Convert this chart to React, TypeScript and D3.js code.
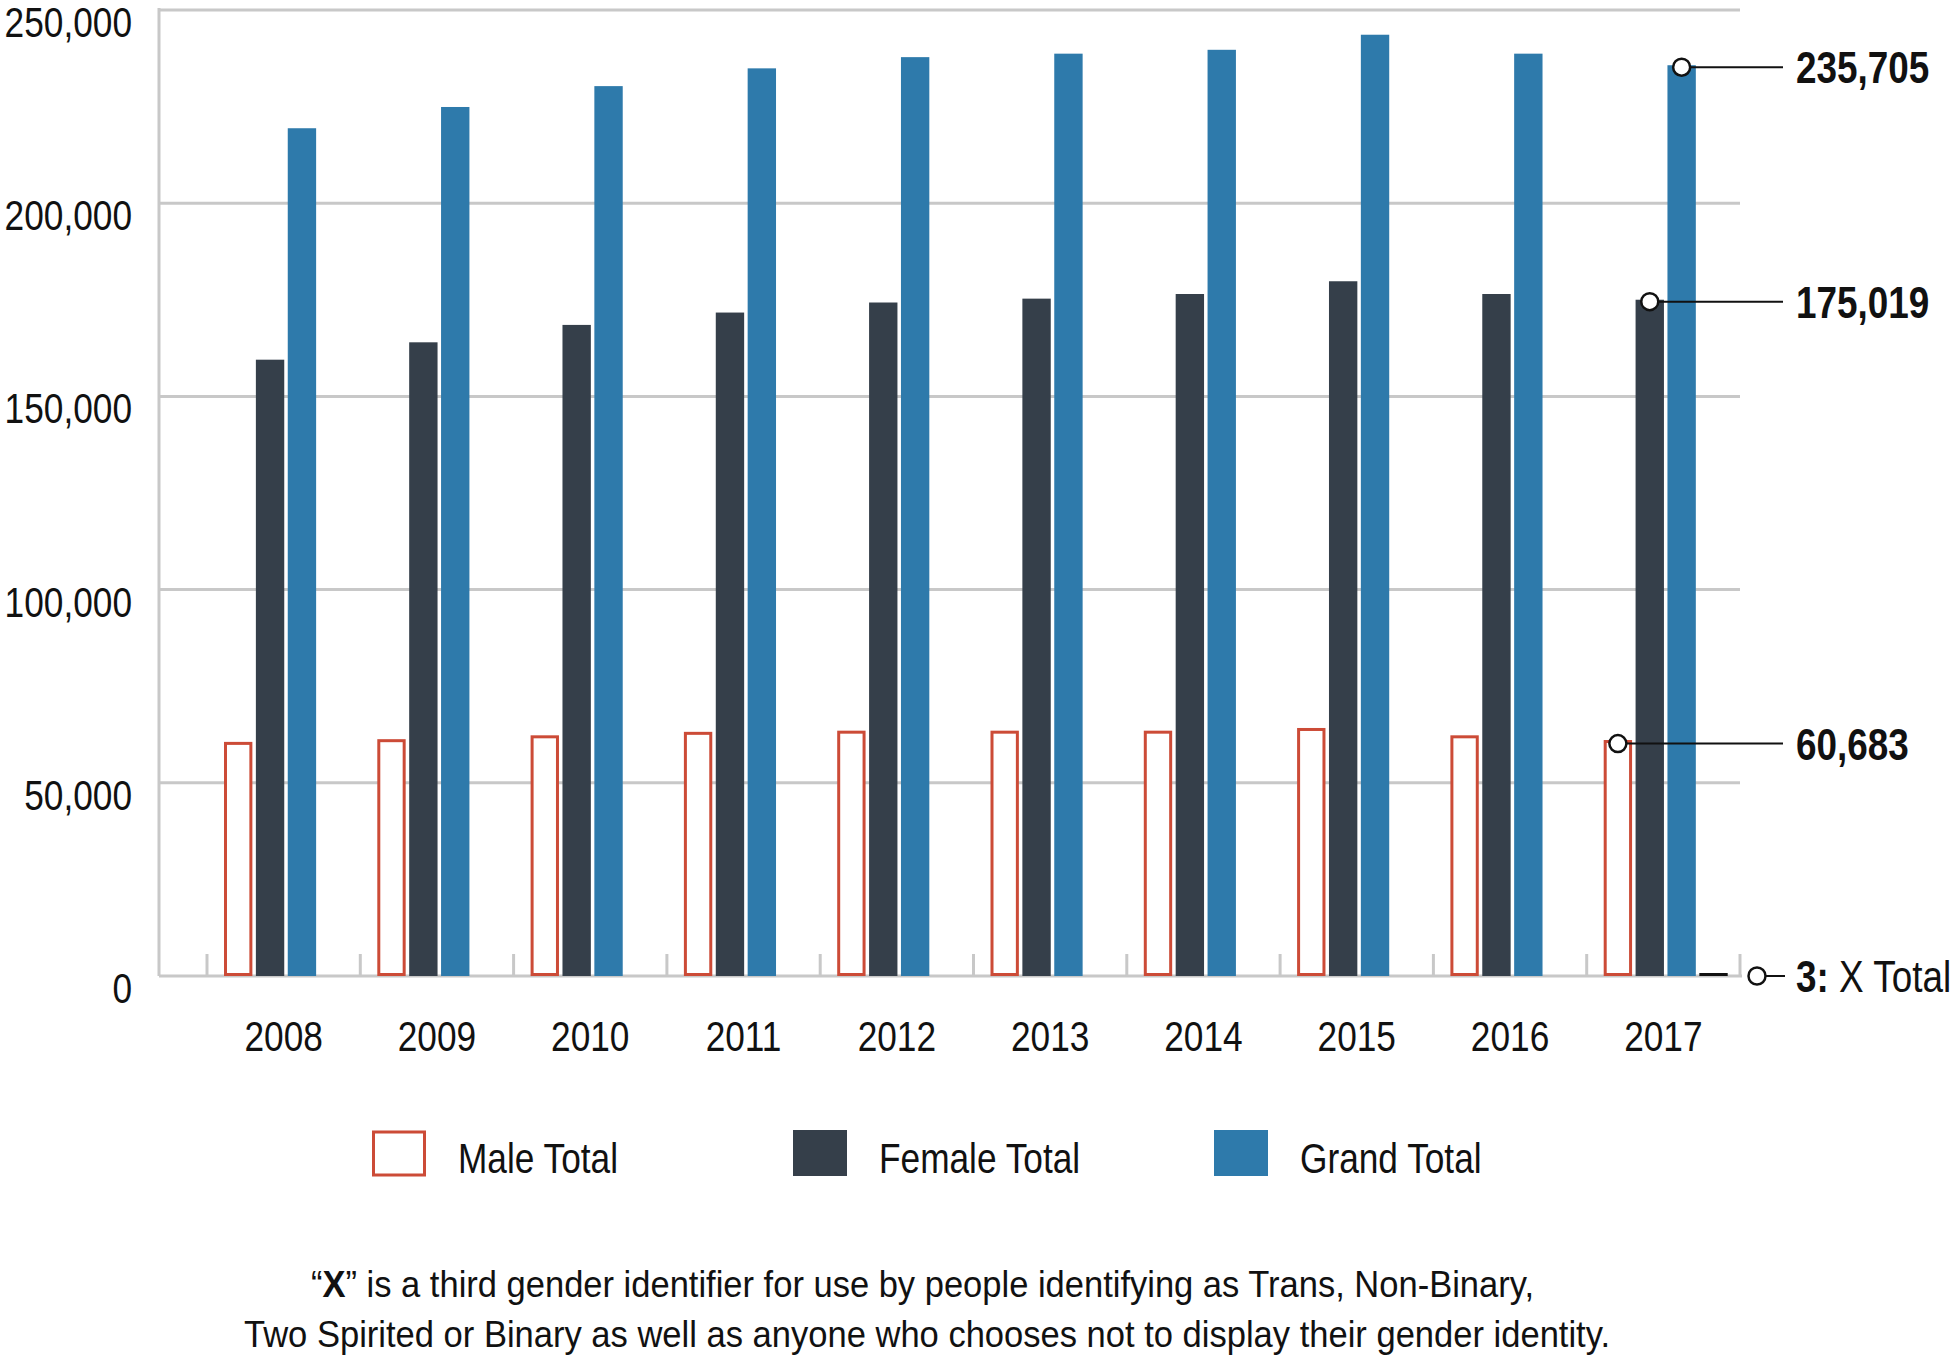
import * as d3 from "d3";
import React from "react";

const years = ["2008", "2009", "2010", "2011", "2012", "2013", "2014", "2015", "2016", "2017"];
const maleTotal = [60200, 60900, 61900, 62800, 63100, 63100, 63100, 63800, 61900, 60683];
const femaleTotal = [159500, 164000, 168500, 171700, 174300, 175300, 176500, 179800, 176500, 175019];
const grandTotal = [219400, 224900, 230300, 234900, 237800, 238700, 239700, 243600, 238700, 235705];
const xTotal = [0, 0, 0, 0, 0, 0, 0, 0, 0, 3];
const yTicks = [0, 50000, 100000, 150000, 200000, 250000];
const seriesKeys = ["male", "female", "grand", "x"];
const legendItems = ["Male Total", "Female Total", "Grand Total"];

const W = 1952;
const H = 1362;
const FONT = "'Liberation Sans', Arial, sans-serif";
const NARROW = 0.82; // fake Arial Narrow
const RED = "#cc4b37";
const DARK = "#353f4a";
const BLUE = "#2e7aab";
const GRID = "#c8c8c8";

// condensed text: squeeze the regular face horizontally
function NText({
	x,
	y,
	anchor = "start",
	size = 43,
	weight = "normal",
	children,
}: {
	x: number;
	y: number;
	anchor?: string;
	size?: number;
	weight?: string;
	children: React.ReactNode;
}) {
	return (
		<text
			transform={`translate(${x},${y}) scale(${NARROW},1)`}
			textAnchor={anchor}
			fontSize={size}
			fontWeight={weight}
			fill="#111"
		>
			{children}
		</text>
	);
}

function App() {
	const axisLeft = 159;
	const x = d3.scaleBand().domain(years).range([207, 1740]);
	const inner = d3.scaleBand().domain(seriesKeys).range([17, 141]).paddingInner(0.11);
	const y = d3.scaleLinear().domain([0, 250000]).range([976, 10]);
	const fmt = d3.format(",");
	const bw = inner.bandwidth();

	const rows = years.map((yr, i) => ({
		yr,
		male: maleTotal[i],
		female: femaleTotal[i],
		grand: grandTotal[i],
		x: xTotal[i],
	}));
	const last = rows[rows.length - 1];
	const lastX = x(last.yr)!;
	const cx = (k: string) => lastX + inner(k)! + bw / 2;

	const callouts = [
		{ k: "grand", v: last.grand },
		{ k: "female", v: last.female },
		{ k: "male", v: last.male },
	];

	return (
		<svg width={W} height={H} style={{ position: "absolute", left: 0, top: 0, background: "#fff" }} fontFamily={FONT}>
			{yTicks.map((t) => (
				<g key={t}>
					{t > 0 && <line x1={axisLeft} x2={1740} y1={y(t)} y2={y(t)} stroke={GRID} strokeWidth={3} />}
					<NText x={132} y={y(t) + 27} anchor="end">
						{fmt(t)}
					</NText>
				</g>
			))}
			{/* axes */}
			<line x1={axisLeft} x2={axisLeft} y1={y(250000) - 2} y2={y(0)} stroke={GRID} strokeWidth={3} />
			<line x1={axisLeft} x2={1742} y1={y(0)} y2={y(0)} stroke={GRID} strokeWidth={3} />
			{[...years.map((yr) => x(yr)!), 1740].map((tx, i) => (
				<line key={i} x1={tx} x2={tx} y1={y(0) - 22} y2={y(0)} stroke={GRID} strokeWidth={3} />
			))}
			{rows.map((r) => (
				<g key={r.yr} transform={`translate(${x(r.yr)},0)`}>
					<rect
						x={inner("male")! + 1.5}
						y={y(r.male)}
						width={bw - 3}
						height={y(0) - y(r.male) - 1.5}
						fill="#fff"
						stroke={RED}
						strokeWidth={3}
					/>
					<rect x={inner("female")} y={y(r.female)} width={bw} height={y(0) - y(r.female)} fill={DARK} />
					<rect x={inner("grand")} y={y(r.grand)} width={bw} height={y(0) - y(r.grand)} fill={BLUE} />
					{r.x > 0 && <rect x={inner("x")} y={y(0) - 3} width={bw} height={3} fill="#111" />}
					<NText x={x.bandwidth() / 2} y={1051} anchor="middle">
						{r.yr}
					</NText>
				</g>
			))}
			{/* callouts for 2017 */}
			{callouts.map((c) => (
				<g key={c.k}>
					<line x1={cx(c.k)} x2={1783} y1={y(c.v) + 2} y2={y(c.v) + 2} stroke="#111" strokeWidth={2} />
					<circle cx={cx(c.k)} cy={y(c.v) + 2} r={8.5} fill="#fff" stroke="#111" strokeWidth={2.5} />
					<NText x={1796} y={y(c.v) + 18} size={45} weight="bold">
						{fmt(c.v)}
					</NText>
				</g>
			))}
			<g>
				<line x1={1757} x2={1785} y1={y(0)} y2={y(0)} stroke="#111" strokeWidth={2} />
				<circle cx={1757} cy={y(0)} r={8.5} fill="#fff" stroke="#111" strokeWidth={2.5} />
				<NText x={1796} y={y(0) + 16} size={45}>
					<tspan fontWeight="bold">{last.x}:</tspan> X Total
				</NText>
			</g>
			{/* legend */}
			{legendItems.map((name, i) => {
				const lx = [372, 793, 1214][i];
				return (
					<g key={name}>
						{i === 0 ? (
							<rect x={lx + 1.5} y={1132} width={51} height={43} fill="#fff" stroke={RED} strokeWidth={3} />
						) : (
							<rect x={lx} y={1130} width={54} height={46} fill={i === 1 ? DARK : BLUE} />
						)}
						<NText x={lx + 86} y={1173}>
							{name}
						</NText>
					</g>
				);
			})}
			{/* footnote */}
			<text x={311} y={1297} fontSize={37} fill="#111" textLength={1223} lengthAdjust="spacingAndGlyphs">
				“<tspan fontWeight="bold">X</tspan>” is a third gender identifier for use by people identifying as Trans, Non-Binary,
			</text>
			<text x={244} y={1347} fontSize={37} fill="#111" textLength={1366} lengthAdjust="spacingAndGlyphs">
				Two Spirited or Binary as well as anyone who chooses not to display their gender identity.
			</text>
		</svg>
	);
}

export default App;
